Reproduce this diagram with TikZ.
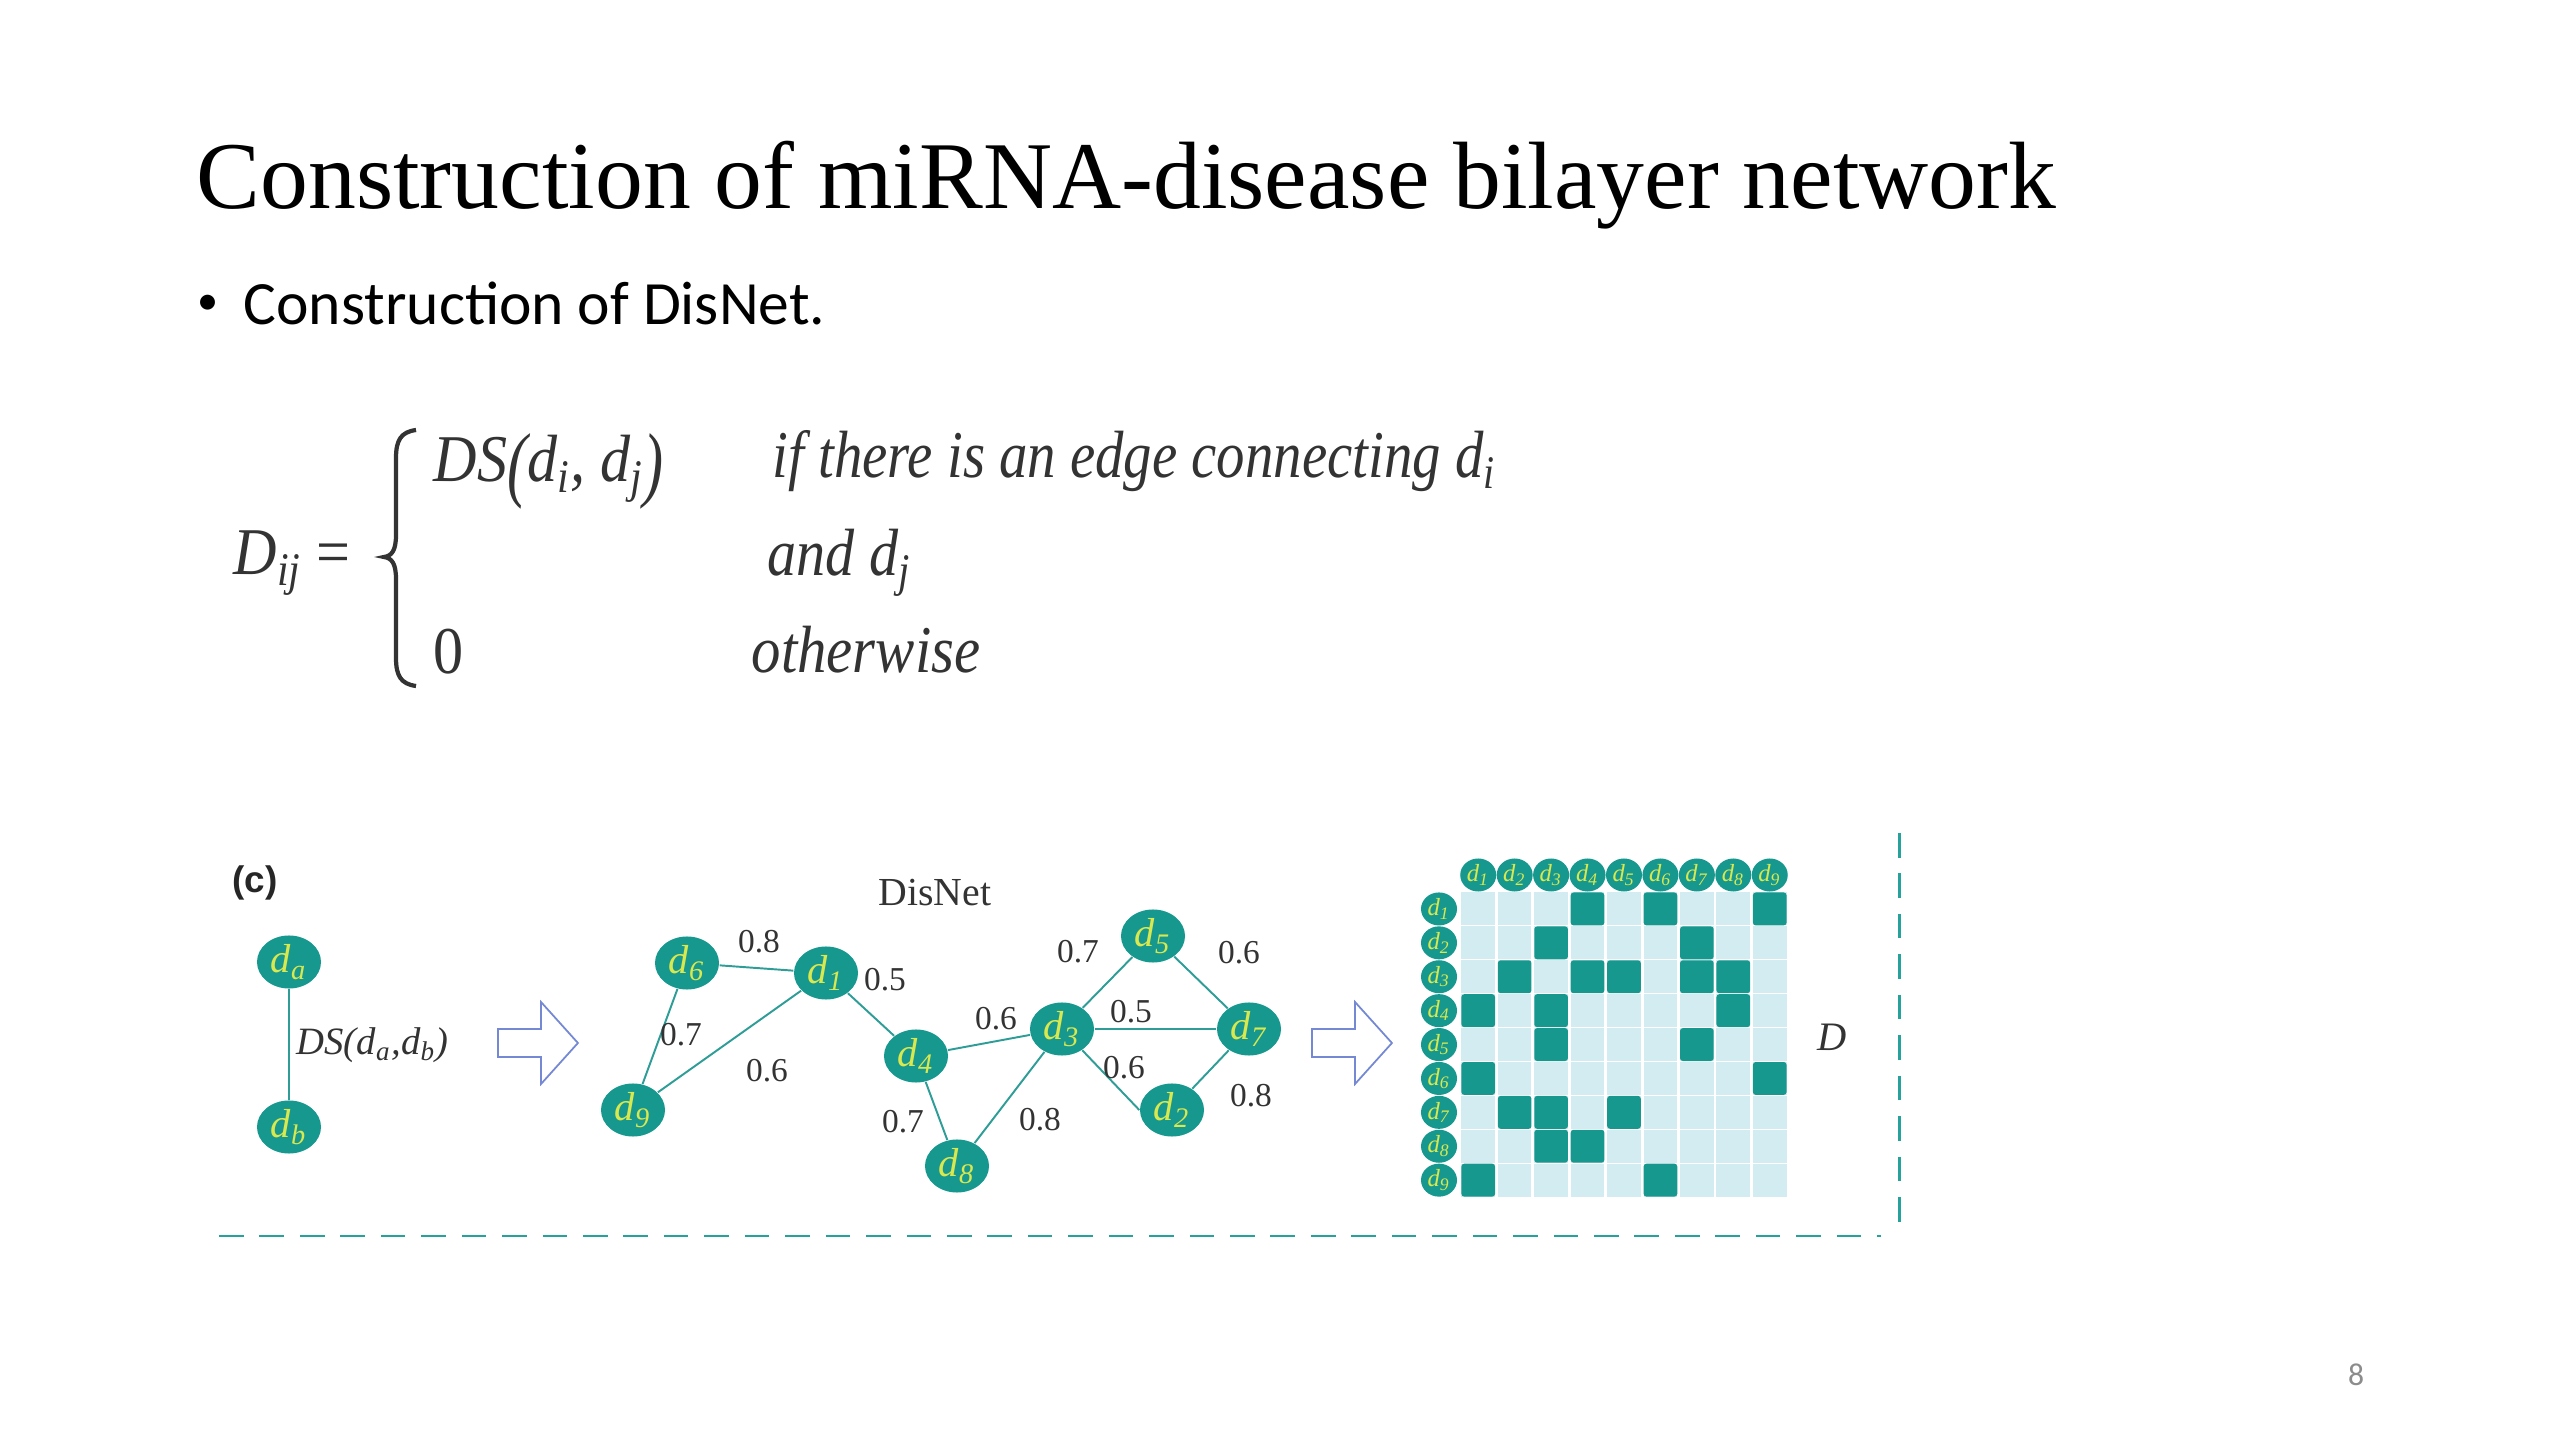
\documentclass[tikz,border=0pt]{standalone}
\usepackage{fontspec}
\newfontfamily\timesf{Liberation Serif}
\newfontfamily\calib{Carlito}
\newfontfamily\arialf{Liberation Sans}
\usetikzlibrary{shapes.geometric,shapes.arrows}
\definecolor{teal1}{HTML}{17988F}
\definecolor{nodetxt}{HTML}{D9E84E}
\definecolor{edgec}{HTML}{2E9D97}
\definecolor{lightc}{HTML}{D3ECF2}
\definecolor{dashc}{HTML}{26A29D}
\definecolor{arrowc}{HTML}{7488D4}
\definecolor{txtg}{HTML}{333333}
\newcommand{\dsub}[1]{d\textsubscript{#1}}
\newcommand{\tallp}[1]{\raisebox{-0.14em}{\scalebox{1}[1.25]{#1}}}
\begin{document}
\begin{tikzpicture}[x=0.01cm,y=-0.01cm,
  gnode/.style={ellipse, fill=teal1, minimum width=0.64cm, minimum height=0.53cm, inner sep=0pt, text=nodetxt, font=\timesf\itshape\fontsize{11.5}{12}\selectfont},
  hdr/.style={ellipse, fill=teal1, minimum width=0.36cm, minimum height=0.33cm, inner sep=0pt, text=nodetxt, font=\timesf\itshape\fontsize{7}{7}\selectfont},
  edge/.style={draw=edgec, line width=0.55pt},
  wlbl/.style={text=txtg, font=\timesf\fontsize{9.5}{10}\selectfont, inner sep=0pt},
  hollow/.style={single arrow, draw=arrowc, fill=white, line width=0.5pt, minimum height=0.80cm, minimum width=0.80cm, single arrow head extend=0.27cm, single arrow tip angle=96, inner xsep=0pt, inner ysep=0.13cm, anchor=tail},
  fml/.style={text=txtg, inner sep=0pt, anchor=base west, font=\timesf\itshape\fontsize{19}{23}\selectfont},
  dashline/.style={draw=dashc, line width=0.85pt, dash pattern=on 7pt off 4.5pt},
]
\fill[white] (0,0) rectangle (2560,1440);
\useasboundingbox (0,0) rectangle (2560,1440);

% title and bullet
\node[anchor=base west, inner sep=0pt, font=\timesf\fontsize{27.2}{32}\selectfont] (title) at (196,209) {Construction of miRNA-disease bilayer network};
\node[anchor=base west, inner sep=0pt, font=\calib\fontsize{12}{14}\selectfont] (bul) at (197,315) {•};
\node[anchor=base west, inner sep=0pt, font=\calib\fontsize{17.5}{21}\selectfont] (btxt) at (243,325) {Construction of DisNet.};

% formula
\node[fml] (fD) at (233,575) {\scalebox{0.9}[1]{D\textsubscript{ij}}};
\node[fml] (feq) at (316,575) {\scalebox{0.9}[1]{\upshape =}};
\draw[txtg, line width=1.2pt] (416,430) .. controls (401,432) and (396,440) .. (396,458) -- (396,535) .. controls (396,550) and (392,556) .. (384,557) .. controls (392,558) and (396,564) .. (396,579) -- (396,658) .. controls (396,676) and (401,684) .. (416,686);
\node[fml] (fDS) at (433,482) {\scalebox{0.9}[1]{DS\tallp{(}d\textsubscript{i}, d\textsubscript{j}\tallp{)}}};
\node[fml] (fif) at (772,478) {\scalebox{0.85}[1]{if there is an edge connecting d\textsubscript{i}}};
\node[fml] (fand) at (767,576) {\scalebox{0.87}[1]{and d\textsubscript{j}}};
\node[fml] (fzero) at (433,674) {\scalebox{0.9}[1]{\upshape 0}};
\node[fml] (fother) at (751,673) {\scalebox{0.88}[1]{otherwise}};

% panel (c)
\node[font=\arialf\bfseries\fontsize{10.5}{11}\selectfont, text=black!85, inner sep=0pt] (clab) at (255,883) {(c)};
\node[gnode] (da) at (289,962) {\dsub{a}};
\node[gnode] (db) at (289,1127) {\dsub{b}};
\draw[edge] (da) -- (db);
\node[anchor=west, inner sep=0pt, text=txtg, font=\timesf\itshape\fontsize{11}{12}\selectfont] (dslab) at (296,1045) {DS(\dsub{a},\dsub{b})};

\node[hollow] (arr1) at (497,1043) {};
\node[hollow] (arr2) at (1311,1043) {};

\node[text=txtg, font=\timesf\fontsize{11.3}{12}\selectfont, inner sep=0pt] (disnet) at (935,893) {DisNet};

\node[gnode] (d6) at (687,963) {\dsub{6}};
\node[gnode] (d1) at (826,973) {\dsub{1}};
\node[gnode] (d9) at (633,1110) {\dsub{9}};
\node[gnode] (d4) at (916,1056) {\dsub{4}};
\node[gnode] (d8) at (957,1166) {\dsub{8}};
\node[gnode] (d3) at (1062,1029) {\dsub{3}};
\node[gnode] (d5) at (1153,936) {\dsub{5}};
\node[gnode] (d7) at (1249,1029) {\dsub{7}};
\node[gnode] (d2) at (1172,1110) {\dsub{2}};

\draw[edge] (d6) -- (d1);
\draw[edge] (d6) -- (d9);
\draw[edge] (d9) -- (d1);
\draw[edge] (d1) -- (d4);
\draw[edge] (d4) -- (d3);
\draw[edge] (d4) -- (d8);
\draw[edge] (d8) -- (d3);
\draw[edge] (d3) -- (d5);
\draw[edge] (d3) -- (d7);
\draw[edge] (d3) -- (d2.west);
\draw[edge] (d5) -- (d7);
\draw[edge] (d2) -- (d7);

\node[wlbl] (w61) at (759,942) {0.8};
\node[wlbl] (w69) at (681,1035) {0.7};
\node[wlbl] (w91) at (767,1071) {0.6};
\node[wlbl] (w14) at (885,980) {0.5};
\node[wlbl] (w43) at (996,1019) {0.6};
\node[wlbl] (w48) at (903,1122) {0.7};
\node[wlbl] (w83) at (1040,1120) {0.8};
\node[wlbl] (w35) at (1078,952) {0.7};
\node[wlbl] (w57) at (1239,953) {0.6};
\node[wlbl] (w37) at (1131,1012) {0.5};
\node[wlbl] (w32) at (1124,1068) {0.6};
\node[wlbl] (w27) at (1251,1096) {0.8};

% matrix
\foreach \c in {0,...,8} {
  \foreach \r in {0,...,8} {
    \fill[lightc] ({1460+\c*36.44+1.4},{892+\r*33.9+0.5}) rectangle ({1460+(\c+1)*36.44-1.4},{892+(\r+1)*33.9-0.5});
  }
}
\foreach \r/\c in {0/3,0/5,0/8,1/2,1/6,2/1,2/3,2/4,2/6,2/7,3/0,3/2,3/7,4/2,4/6,5/0,5/8,6/1,6/2,6/4,7/2,7/3,8/0,8/5} {
  \fill[teal1, rounded corners=0.8pt] ({1460+\c*36.44+1.4},{892+\r*33.9+0.5}) rectangle ({1460+(\c+1)*36.44-1.4},{892+(\r+1)*33.9-0.5});
}
\foreach \k in {1,...,9} {
  \node[hdr] (col\k) at ({1460+(\k-0.5)*36.44},875) {\dsub{\k}};
  \node[hdr] (row\k) at (1439,{892+(\k-0.5)*33.9}) {\dsub{\k}};
}
\node[text=txtg, inner sep=0pt, font=\timesf\itshape\fontsize{11.5}{12}\selectfont] (Dlab) at (1832,1037) {D};

% dashed frame
\draw[dashline] (219,1236) -- (1881,1236);
\draw[dashline] (1899,833) -- (1899,1227);

% page number
\node[inner sep=0pt, text=black!45, font=\calib\fontsize{9}{9}\selectfont] (pnum) at (2356,1375) {8};
\end{tikzpicture}
\end{document}
